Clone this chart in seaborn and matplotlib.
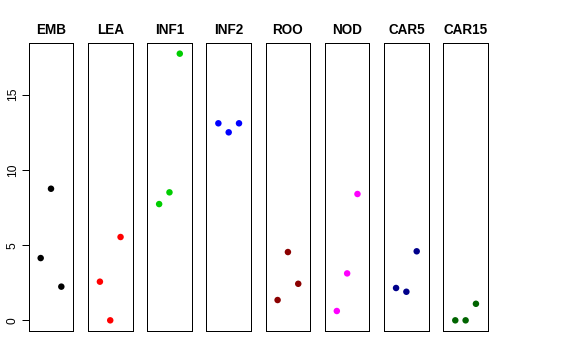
import matplotlib
matplotlib.use("Agg")
import matplotlib.pyplot as plt
import seaborn as sns
import pandas as pd

sns.set_style("white")
plt.rcParams['font.family'] = ['Liberation Sans', 'DejaVu Sans']
plt.rcParams['text.color'] = 'black'
plt.rcParams['axes.labelcolor'] = 'black'
plt.rcParams['xtick.color'] = 'black'
plt.rcParams['ytick.color'] = 'black'

tissues = ["EMB", "LEA", "INF1", "INF2", "ROO", "NOD", "CAR5", "CAR15"]
colors = ["#000000", "#FF0000", "#00CD00", "#0000FF", "#8B0000", "#FF00FF", "#00008B", "#006400"]
values = {
    "EMB":   [4.14, 8.75, 2.24],
    "LEA":   [2.57, 0.00, 5.54],
    "INF1":  [7.73, 8.51, 17.73],
    "INF2":  [13.10, 12.50, 13.10],
    "ROO":   [1.35, 4.54, 2.43],
    "NOD":   [0.62, 3.12, 8.40],
    "CAR5":  [2.15, 1.90, 4.59],
    "CAR15": [0.00, 0.00, 1.10],
}
replicates = [1, 2, 3]
yticks = [0, 5, 10, 15]

rows = []
for t in tissues:
    for r, v in zip(replicates, values[t]):
        rows.append({"tissue": t, "rep": r, "value": v})
df = pd.DataFrame(rows)

W, H = 576, 360
fig = plt.figure(figsize=(W / 72, H / 72), dpi=72)

ymax = df["value"].max()
ymin = df["value"].min()
pad = (ymax - ymin) * 0.04
left0, step, pw = 28.7, 59.23, 44.6
top, bottom = 43, 331

for i, (t, c) in enumerate(zip(tissues, colors)):
    lx = left0 + i * step
    ax = fig.add_axes([lx / W, (H - bottom) / H, pw / W, (bottom - top) / H])
    sub = df[df["tissue"] == t]
    sns.scatterplot(data=sub, x="rep", y="value", ax=ax, color=c, s=42,
                    edgecolor="none", legend=False)
    ax.set_xlim(-0.16, 4.16)
    ax.set_ylim(ymin - pad, ymax + pad)
    ax.set_xticks([])
    ax.set_xlabel("")
    ax.set_ylabel("")
    ax.set_title(t, fontsize=13.5, fontweight="bold", pad=9, color="black")
    for s in ax.spines.values():
        s.set_visible(True)
        s.set_color("black")
        s.set_linewidth(1.0)
    if i == 0:
        ax.set_yticks(yticks)
        ax.set_yticklabels([str(v) for v in yticks], rotation=90, va="center",
                           fontsize=12, color="black")
        ax.tick_params(axis="y", direction="out", length=7, width=1, left=True,
                       pad=3, colors="black")
    else:
        ax.set_yticks([])

fig.savefig("out.png", dpi=72)
